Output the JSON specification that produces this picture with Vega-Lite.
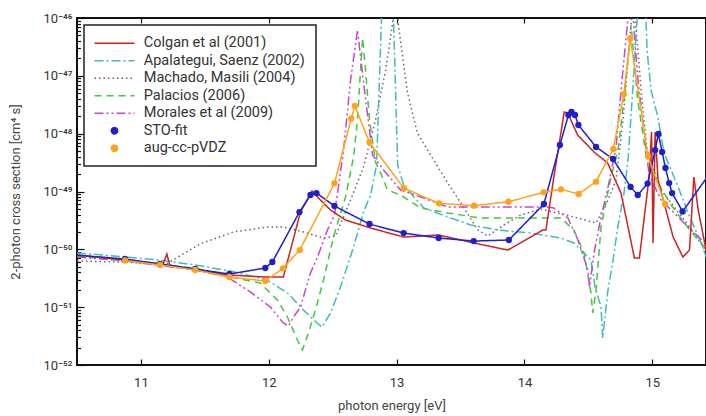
{
  "$schema": "https://vega.github.io/schema/vega-lite/v6.json",
  "width": 629,
  "height": 347,
  "autosize": {"type": "none"},
  "padding": {"left": 77, "top": 18, "right": 0, "bottom": 51},
  "background": "white",
  "config": {
    "font": "Roboto",
    "view": {"stroke": "#111", "strokeWidth": 2}
  },
  "datasets": {
    "curves": [
      {"series": "Machado, Masili (2004)", "x": 10.5, "y": 6.28e-51},
      {"series": "Machado, Masili (2004)", "x": 10.837, "y": 6.04e-51},
      {"series": "Machado, Masili (2004)", "x": 11.197, "y": 5.57e-51},
      {"series": "Machado, Masili (2004)", "x": 11.464, "y": 1.24e-50},
      {"series": "Machado, Masili (2004)", "x": 11.723, "y": 2.0e-50},
      {"series": "Machado, Masili (2004)", "x": 11.989, "y": 2.43e-50},
      {"series": "Machado, Masili (2004)", "x": 12.114, "y": 2.43e-50},
      {"series": "Machado, Masili (2004)", "x": 12.271, "y": 2.0e-50},
      {"series": "Machado, Masili (2004)", "x": 12.428, "y": 1.57e-50},
      {"series": "Machado, Masili (2004)", "x": 12.522, "y": 1.7e-50},
      {"series": "Machado, Masili (2004)", "x": 12.64, "y": 7.13e-50},
      {"series": "Machado, Masili (2004)", "x": 12.741, "y": 2.65e-49},
      {"series": "Machado, Masili (2004)", "x": 12.835, "y": 1.72e-48},
      {"series": "Machado, Masili (2004)", "x": 12.914, "y": 1.26e-47},
      {"series": "Machado, Masili (2004)", "x": 12.961, "y": 6.2e-47},
      {"series": "Machado, Masili (2004)", "x": 12.992, "y": 2.0e-46},
      {"series": "Machado, Masili (2004)", "x": 13.016, "y": 6.98e-47},
      {"series": "Machado, Masili (2004)", "x": 13.084, "y": 5.25e-48},
      {"series": "Machado, Masili (2004)", "x": 13.162, "y": 1.03e-48},
      {"series": "Machado, Masili (2004)", "x": 13.251, "y": 4.82e-49},
      {"series": "Machado, Masili (2004)", "x": 13.4, "y": 1.4e-49},
      {"series": "Machado, Masili (2004)", "x": 13.502, "y": 6.32e-50},
      {"series": "Machado, Masili (2004)", "x": 13.635, "y": 2.16e-50},
      {"series": "Machado, Masili (2004)", "x": 13.713, "y": 1.7e-50},
      {"series": "Machado, Masili (2004)", "x": 13.839, "y": 2.64e-50},
      {"series": "Machado, Masili (2004)", "x": 13.972, "y": 3.93e-50},
      {"series": "Machado, Masili (2004)", "x": 14.128, "y": 4.98e-50},
      {"series": "Machado, Masili (2004)", "x": 14.387, "y": 3.62e-50},
      {"series": "Machado, Masili (2004)", "x": 14.56, "y": 2.85e-50},
      {"series": "Machado, Masili (2004)", "x": 14.654, "y": 7.13e-50},
      {"series": "Machado, Masili (2004)", "x": 14.716, "y": 1.58e-49},
      {"series": "Machado, Masili (2004)", "x": 14.771, "y": 1.72e-48},
      {"series": "Machado, Masili (2004)", "x": 14.81, "y": 1.88e-47},
      {"series": "Machado, Masili (2004)", "x": 14.85, "y": 2.0e-46},
      {"series": "Machado, Masili (2004)", "x": 14.881, "y": 4.17e-47},
      {"series": "Machado, Masili (2004)", "x": 14.912, "y": 5.69e-48},
      {"series": "Machado, Masili (2004)", "x": 14.959, "y": 5.21e-49},
      {"series": "Machado, Masili (2004)", "x": 15.069, "y": 1.06e-49},
      {"series": "Machado, Masili (2004)", "x": 15.28, "y": 2.64e-50},
      {"series": "Machado, Masili (2004)", "x": 15.43, "y": 8.63e-51},

      {"series": "Apalategui, Saenz (2002)", "x": 10.5, "y": 8.63e-51},
      {"series": "Apalategui, Saenz (2002)", "x": 10.704, "y": 7.98e-51},
      {"series": "Apalategui, Saenz (2002)", "x": 11.15, "y": 6.53e-51},
      {"series": "Apalategui, Saenz (2002)", "x": 11.425, "y": 5.36e-51},
      {"series": "Apalategui, Saenz (2002)", "x": 11.699, "y": 4.22e-51},
      {"series": "Apalategui, Saenz (2002)", "x": 11.987, "y": 2.94e-51},
      {"series": "Apalategui, Saenz (2002)", "x": 12.146, "y": 1.76e-51},
      {"series": "Apalategui, Saenz (2002)", "x": 12.271, "y": 8.93e-52},
      {"series": "Apalategui, Saenz (2002)", "x": 12.378, "y": 5.32e-52},
      {"series": "Apalategui, Saenz (2002)", "x": 12.416, "y": 4.54e-52},
      {"series": "Apalategui, Saenz (2002)", "x": 12.483, "y": 7.93e-52},
      {"series": "Apalategui, Saenz (2002)", "x": 12.561, "y": 2.23e-51},
      {"series": "Apalategui, Saenz (2002)", "x": 12.663, "y": 1.1e-50},
      {"series": "Apalategui, Saenz (2002)", "x": 12.741, "y": 4.41e-50},
      {"series": "Apalategui, Saenz (2002)", "x": 12.796, "y": 8.69e-50},
      {"series": "Apalategui, Saenz (2002)", "x": 12.843, "y": 2.87e-49},
      {"series": "Apalategui, Saenz (2002)", "x": 12.863, "y": 5.69e-48},
      {"series": "Apalategui, Saenz (2002)", "x": 12.882, "y": 1.0e-46},
      {"series": "Apalategui, Saenz (2002)", "x": 12.929, "y": 3.0e-46},
      {"series": "Apalategui, Saenz (2002)", "x": 12.976, "y": 9.2e-47},
      {"series": "Apalategui, Saenz (2002)", "x": 12.992, "y": 5.69e-48},
      {"series": "Apalategui, Saenz (2002)", "x": 13.008, "y": 2.87e-49},
      {"series": "Apalategui, Saenz (2002)", "x": 13.055, "y": 1.29e-49},
      {"series": "Apalategui, Saenz (2002)", "x": 13.212, "y": 5.19e-50},
      {"series": "Apalategui, Saenz (2002)", "x": 13.4, "y": 3.62e-50},
      {"series": "Apalategui, Saenz (2002)", "x": 13.58, "y": 2.64e-50},
      {"series": "Apalategui, Saenz (2002)", "x": 13.792, "y": 2.16e-50},
      {"series": "Apalategui, Saenz (2002)", "x": 14.05, "y": 1.91e-50},
      {"series": "Apalategui, Saenz (2002)", "x": 14.285, "y": 1.57e-50},
      {"series": "Apalategui, Saenz (2002)", "x": 14.387, "y": 1.29e-50},
      {"series": "Apalategui, Saenz (2002)", "x": 14.466, "y": 8.63e-51},
      {"series": "Apalategui, Saenz (2002)", "x": 14.52, "y": 6.53e-51},
      {"series": "Apalategui, Saenz (2002)", "x": 14.552, "y": 2.23e-51},
      {"series": "Apalategui, Saenz (2002)", "x": 14.599, "y": 1.01e-51},
      {"series": "Apalategui, Saenz (2002)", "x": 14.612, "y": 2.93e-52},
      {"series": "Apalategui, Saenz (2002)", "x": 14.651, "y": 1.83e-51},
      {"series": "Apalategui, Saenz (2002)", "x": 14.693, "y": 6.53e-51},
      {"series": "Apalategui, Saenz (2002)", "x": 14.73, "y": 2.43e-50},
      {"series": "Apalategui, Saenz (2002)", "x": 14.779, "y": 9.42e-50},
      {"series": "Apalategui, Saenz (2002)", "x": 14.81, "y": 3.51e-49},
      {"series": "Apalategui, Saenz (2002)", "x": 14.842, "y": 3.82e-48},
      {"series": "Apalategui, Saenz (2002)", "x": 14.881, "y": 9.2e-47},
      {"series": "Apalategui, Saenz (2002)", "x": 14.912, "y": 3.0e-46},
      {"series": "Apalategui, Saenz (2002)", "x": 14.951, "y": 9.2e-47},
      {"series": "Apalategui, Saenz (2002)", "x": 14.959, "y": 2.8e-47},
      {"series": "Apalategui, Saenz (2002)", "x": 14.99, "y": 5.69e-48},
      {"series": "Apalategui, Saenz (2002)", "x": 15.045, "y": 1.87e-48},
      {"series": "Apalategui, Saenz (2002)", "x": 15.092, "y": 4.63e-49},
      {"series": "Apalategui, Saenz (2002)", "x": 15.202, "y": 1.2e-49},
      {"series": "Apalategui, Saenz (2002)", "x": 15.28, "y": 4.25e-50},
      {"series": "Apalategui, Saenz (2002)", "x": 15.382, "y": 1.29e-50},
      {"series": "Apalategui, Saenz (2002)", "x": 15.43, "y": 6.53e-51},

      {"series": "Palacios (2006)", "x": 10.5, "y": 7.66e-51},
      {"series": "Palacios (2006)", "x": 10.876, "y": 6.28e-51},
      {"series": "Palacios (2006)", "x": 11.425, "y": 4.75e-51},
      {"series": "Palacios (2006)", "x": 11.699, "y": 3.32e-51},
      {"series": "Palacios (2006)", "x": 11.934, "y": 2.62e-51},
      {"series": "Palacios (2006)", "x": 12.067, "y": 1.33e-51},
      {"series": "Palacios (2006)", "x": 12.146, "y": 6.76e-52},
      {"series": "Palacios (2006)", "x": 12.224, "y": 2.7e-52},
      {"series": "Palacios (2006)", "x": 12.263, "y": 1.82e-52},
      {"series": "Palacios (2006)", "x": 12.31, "y": 3.57e-52},
      {"series": "Palacios (2006)", "x": 12.365, "y": 8.93e-52},
      {"series": "Palacios (2006)", "x": 12.428, "y": 2.94e-51},
      {"series": "Palacios (2006)", "x": 12.506, "y": 1.63e-50},
      {"series": "Palacios (2006)", "x": 12.6, "y": 8.04e-50},
      {"series": "Palacios (2006)", "x": 12.663, "y": 3.94e-49},
      {"series": "Palacios (2006)", "x": 12.694, "y": 1.72e-48},
      {"series": "Palacios (2006)", "x": 12.718, "y": 1.26e-47},
      {"series": "Palacios (2006)", "x": 12.734, "y": 4.51e-47},
      {"series": "Palacios (2006)", "x": 12.757, "y": 1.26e-47},
      {"series": "Palacios (2006)", "x": 12.788, "y": 1.72e-48},
      {"series": "Palacios (2006)", "x": 12.835, "y": 3.24e-49},
      {"series": "Palacios (2006)", "x": 12.875, "y": 2.09e-49},
      {"series": "Palacios (2006)", "x": 12.929, "y": 1.06e-49},
      {"series": "Palacios (2006)", "x": 13.031, "y": 8.69e-50},
      {"series": "Palacios (2006)", "x": 13.188, "y": 5.19e-50},
      {"series": "Palacios (2006)", "x": 13.4, "y": 4.25e-50},
      {"series": "Palacios (2006)", "x": 13.658, "y": 3.48e-50},
      {"series": "Palacios (2006)", "x": 13.917, "y": 3.48e-50},
      {"series": "Palacios (2006)", "x": 14.285, "y": 3.48e-50},
      {"series": "Palacios (2006)", "x": 14.387, "y": 2.16e-50},
      {"series": "Palacios (2006)", "x": 14.466, "y": 8.63e-51},
      {"series": "Palacios (2006)", "x": 14.52, "y": 1.76e-51},
      {"series": "Palacios (2006)", "x": 14.534, "y": 7.93e-52},
      {"series": "Palacios (2006)", "x": 14.56, "y": 1.98e-51},
      {"series": "Palacios (2006)", "x": 14.599, "y": 2.43e-50},
      {"series": "Palacios (2006)", "x": 14.677, "y": 1.78e-49},
      {"series": "Palacios (2006)", "x": 14.732, "y": 5.21e-49},
      {"series": "Palacios (2006)", "x": 14.787, "y": 5.69e-48},
      {"series": "Palacios (2006)", "x": 14.834, "y": 7.57e-47},
      {"series": "Palacios (2006)", "x": 14.886, "y": 3.82e-48},
      {"series": "Palacios (2006)", "x": 14.951, "y": 4.28e-49},
      {"series": "Palacios (2006)", "x": 15.03, "y": 1.58e-49},
      {"series": "Palacios (2006)", "x": 15.147, "y": 5.84e-50},
      {"series": "Palacios (2006)", "x": 15.304, "y": 2.0e-50},
      {"series": "Palacios (2006)", "x": 15.43, "y": 9.72e-51},

      {"series": "Morales et al (2009)", "x": 10.5, "y": 7.36e-51},
      {"series": "Morales et al (2009)", "x": 10.876, "y": 6.28e-51},
      {"series": "Morales et al (2009)", "x": 11.425, "y": 4.39e-51},
      {"series": "Morales et al (2009)", "x": 11.676, "y": 3.32e-51},
      {"series": "Morales et al (2009)", "x": 11.856, "y": 1.83e-51},
      {"series": "Morales et al (2009)", "x": 12.013, "y": 1.0e-51},
      {"series": "Morales et al (2009)", "x": 12.114, "y": 5.32e-52},
      {"series": "Morales et al (2009)", "x": 12.154, "y": 4.72e-52},
      {"series": "Morales et al (2009)", "x": 12.193, "y": 6.76e-52},
      {"series": "Morales et al (2009)", "x": 12.248, "y": 1.0e-51},
      {"series": "Morales et al (2009)", "x": 12.326, "y": 3.9e-51},
      {"series": "Morales et al (2009)", "x": 12.381, "y": 7.36e-51},
      {"series": "Morales et al (2009)", "x": 12.459, "y": 2.16e-50},
      {"series": "Morales et al (2009)", "x": 12.514, "y": 3.93e-50},
      {"series": "Morales et al (2009)", "x": 12.585, "y": 5.21e-49},
      {"series": "Morales et al (2009)", "x": 12.64, "y": 8.47e-48},
      {"series": "Morales et al (2009)", "x": 12.694, "y": 6.2e-47},
      {"series": "Morales et al (2009)", "x": 12.741, "y": 7.82e-48},
      {"series": "Morales et al (2009)", "x": 12.812, "y": 4.28e-49},
      {"series": "Morales et al (2009)", "x": 12.898, "y": 2.35e-49},
      {"series": "Morales et al (2009)", "x": 13.031, "y": 1.06e-49},
      {"series": "Morales et al (2009)", "x": 13.188, "y": 8.04e-50},
      {"series": "Morales et al (2009)", "x": 13.4, "y": 5.4e-50},
      {"series": "Morales et al (2009)", "x": 13.658, "y": 5.4e-50},
      {"series": "Morales et al (2009)", "x": 13.917, "y": 5.4e-50},
      {"series": "Morales et al (2009)", "x": 14.183, "y": 5.4e-50},
      {"series": "Morales et al (2009)", "x": 14.23, "y": 5.19e-50},
      {"series": "Morales et al (2009)", "x": 14.34, "y": 3.48e-50},
      {"series": "Morales et al (2009)", "x": 14.418, "y": 1.45e-50},
      {"series": "Morales et al (2009)", "x": 14.497, "y": 4.39e-51},
      {"series": "Morales et al (2009)", "x": 14.509, "y": 2.23e-51},
      {"series": "Morales et al (2009)", "x": 14.544, "y": 8.63e-51},
      {"series": "Morales et al (2009)", "x": 14.599, "y": 3.62e-50},
      {"series": "Morales et al (2009)", "x": 14.654, "y": 1.2e-49},
      {"series": "Morales et al (2009)", "x": 14.716, "y": 5.65e-49},
      {"series": "Morales et al (2009)", "x": 14.763, "y": 8.47e-48},
      {"series": "Morales et al (2009)", "x": 14.81, "y": 1.0e-46},
      {"series": "Morales et al (2009)", "x": 14.826, "y": 2.0e-46},
      {"series": "Morales et al (2009)", "x": 14.85, "y": 1.0e-46},
      {"series": "Morales et al (2009)", "x": 14.889, "y": 7.82e-48},
      {"series": "Morales et al (2009)", "x": 14.936, "y": 1.07e-48},
      {"series": "Morales et al (2009)", "x": 14.975, "y": 1.93e-49},
      {"series": "Morales et al (2009)", "x": 15.069, "y": 7.13e-50},
      {"series": "Morales et al (2009)", "x": 15.304, "y": 2.16e-50},
      {"series": "Morales et al (2009)", "x": 15.43, "y": 1.19e-50},

      {"series": "Colgan et al (2001)", "x": 10.5, "y": 7.98e-51},
      {"series": "Colgan et al (2001)", "x": 10.876, "y": 6.53e-51},
      {"series": "Colgan et al (2001)", "x": 11.174, "y": 5.57e-51},
      {"series": "Colgan et al (2001)", "x": 11.203, "y": 8.3e-51},
      {"series": "Colgan et al (2001)", "x": 11.225, "y": 5.36e-51},
      {"series": "Colgan et al (2001)", "x": 11.425, "y": 4.39e-51},
      {"series": "Colgan et al (2001)", "x": 11.691, "y": 3.6e-51},
      {"series": "Colgan et al (2001)", "x": 11.973, "y": 3.32e-51},
      {"series": "Colgan et al (2001)", "x": 12.114, "y": 3.32e-51},
      {"series": "Colgan et al (2001)", "x": 12.248, "y": 4.41e-50},
      {"series": "Colgan et al (2001)", "x": 12.339, "y": 1.02e-49},
      {"series": "Colgan et al (2001)", "x": 12.404, "y": 7.13e-50},
      {"series": "Colgan et al (2001)", "x": 12.483, "y": 4.79e-50},
      {"series": "Colgan et al (2001)", "x": 12.6, "y": 3.21e-50},
      {"series": "Colgan et al (2001)", "x": 12.796, "y": 2.34e-50},
      {"series": "Colgan et al (2001)", "x": 13.055, "y": 1.63e-50},
      {"series": "Colgan et al (2001)", "x": 13.329, "y": 1.77e-50},
      {"series": "Colgan et al (2001)", "x": 13.603, "y": 1.29e-50},
      {"series": "Colgan et al (2001)", "x": 13.87, "y": 9.72e-51},
      {"series": "Colgan et al (2001)", "x": 14.144, "y": 2.16e-50},
      {"series": "Colgan et al (2001)", "x": 14.168, "y": 2.16e-50},
      {"series": "Colgan et al (2001)", "x": 14.23, "y": 1.78e-49},
      {"series": "Colgan et al (2001)", "x": 14.311, "y": 2.37e-48},
      {"series": "Colgan et al (2001)", "x": 14.338, "y": 2.28e-48},
      {"series": "Colgan et al (2001)", "x": 14.416, "y": 9.48e-49},
      {"series": "Colgan et al (2001)", "x": 14.544, "y": 4.82e-49},
      {"series": "Colgan et al (2001)", "x": 14.651, "y": 3.11e-49},
      {"series": "Colgan et al (2001)", "x": 14.755, "y": 9.42e-50},
      {"series": "Colgan et al (2001)", "x": 14.802, "y": 2.97e-50},
      {"series": "Colgan et al (2001)", "x": 14.86, "y": 7.08e-51},
      {"series": "Colgan et al (2001)", "x": 14.899, "y": 7.08e-51},
      {"series": "Colgan et al (2001)", "x": 14.975, "y": 1.78e-49},
      {"series": "Colgan et al (2001)", "x": 14.994, "y": 1.07e-48},
      {"series": "Colgan et al (2001)", "x": 15.006, "y": 1.29e-50},
      {"series": "Colgan et al (2001)", "x": 15.022, "y": 1.07e-48},
      {"series": "Colgan et al (2001)", "x": 15.045, "y": 1.58e-49},
      {"series": "Colgan et al (2001)", "x": 15.163, "y": 1.63e-50},
      {"series": "Colgan et al (2001)", "x": 15.239, "y": 7.36e-51},
      {"series": "Colgan et al (2001)", "x": 15.291, "y": 9.72e-51},
      {"series": "Colgan et al (2001)", "x": 15.325, "y": 1.78e-49},
      {"series": "Colgan et al (2001)", "x": 15.359, "y": 4.79e-50},
      {"series": "Colgan et al (2001)", "x": 15.43, "y": 7.66e-51},

      {"series": "STO-fit", "x": 10.45, "y": 8.1e-51},
      {"series": "STO-fit", "x": 10.876, "y": 6.8e-51},
      {"series": "STO-fit", "x": 11.15, "y": 5.57e-51},
      {"series": "STO-fit", "x": 11.425, "y": 4.57e-51},
      {"series": "STO-fit", "x": 11.691, "y": 3.74e-51},
      {"series": "STO-fit", "x": 11.973, "y": 4.75e-51},
      {"series": "STO-fit", "x": 12.028, "y": 6.04e-51},
      {"series": "STO-fit", "x": 12.24, "y": 4.41e-50},
      {"series": "STO-fit", "x": 12.326, "y": 8.69e-50},
      {"series": "STO-fit", "x": 12.373, "y": 9.4e-50},
      {"series": "STO-fit", "x": 12.514, "y": 5.61e-50},
      {"series": "STO-fit", "x": 12.788, "y": 2.74e-50},
      {"series": "STO-fit", "x": 13.055, "y": 1.91e-50},
      {"series": "STO-fit", "x": 13.329, "y": 1.57e-50},
      {"series": "STO-fit", "x": 13.603, "y": 1.39e-50},
      {"series": "STO-fit", "x": 13.878, "y": 1.45e-50},
      {"series": "STO-fit", "x": 14.152, "y": 6.08e-50},
      {"series": "STO-fit", "x": 14.277, "y": 6.37e-49},
      {"series": "STO-fit", "x": 14.344, "y": 2.1e-48},
      {"series": "STO-fit", "x": 14.368, "y": 2.37e-48},
      {"series": "STO-fit", "x": 14.395, "y": 2.1e-48},
      {"series": "STO-fit", "x": 14.422, "y": 1.41e-48},
      {"series": "STO-fit", "x": 14.56, "y": 5.88e-49},
      {"series": "STO-fit", "x": 14.693, "y": 3.65e-49},
      {"series": "STO-fit", "x": 14.83, "y": 1.2e-49},
      {"series": "STO-fit", "x": 14.886, "y": 8.69e-50},
      {"series": "STO-fit", "x": 14.963, "y": 1.37e-49},
      {"series": "STO-fit", "x": 15.022, "y": 5.21e-49},
      {"series": "STO-fit", "x": 15.048, "y": 9.86e-49},
      {"series": "STO-fit", "x": 15.077, "y": 4.82e-49},
      {"series": "STO-fit", "x": 15.103, "y": 2.55e-49},
      {"series": "STO-fit", "x": 15.132, "y": 1.4e-49},
      {"series": "STO-fit", "x": 15.155, "y": 9.4e-50},
      {"series": "STO-fit", "x": 15.237, "y": 4.51e-50},
      {"series": "STO-fit", "x": 15.5, "y": 2.94e-49},

      {"series": "aug-cc-pVDZ", "x": 10.876, "y": 6.41e-51},
      {"series": "aug-cc-pVDZ", "x": 11.15, "y": 5.36e-51},
      {"series": "aug-cc-pVDZ", "x": 11.425, "y": 4.39e-51},
      {"series": "aug-cc-pVDZ", "x": 11.691, "y": 3.32e-51},
      {"series": "aug-cc-pVDZ", "x": 11.973, "y": 2.83e-51},
      {"series": "aug-cc-pVDZ", "x": 12.111, "y": 4.7e-51},
      {"series": "aug-cc-pVDZ", "x": 12.242, "y": 9.72e-51},
      {"series": "aug-cc-pVDZ", "x": 12.514, "y": 1.39e-49},
      {"series": "aug-cc-pVDZ", "x": 12.645, "y": 1.83e-48},
      {"series": "aug-cc-pVDZ", "x": 12.673, "y": 3.01e-48},
      {"series": "aug-cc-pVDZ", "x": 12.788, "y": 7.1e-49},
      {"series": "aug-cc-pVDZ", "x": 13.057, "y": 1.14e-49},
      {"series": "aug-cc-pVDZ", "x": 13.331, "y": 6.25e-50},
      {"series": "aug-cc-pVDZ", "x": 13.606, "y": 5.68e-50},
      {"series": "aug-cc-pVDZ", "x": 13.875, "y": 6.65e-50},
      {"series": "aug-cc-pVDZ", "x": 14.15, "y": 9.68e-50},
      {"series": "aug-cc-pVDZ", "x": 14.285, "y": 1.09e-49},
      {"series": "aug-cc-pVDZ", "x": 14.424, "y": 9.05e-50},
      {"series": "aug-cc-pVDZ", "x": 14.56, "y": 1.48e-49},
      {"series": "aug-cc-pVDZ", "x": 14.695, "y": 5.43e-49},
      {"series": "aug-cc-pVDZ", "x": 14.777, "y": 4.8e-48},
      {"series": "aug-cc-pVDZ", "x": 14.828, "y": 4.46e-47},
      {"series": "aug-cc-pVDZ", "x": 14.965, "y": 4.11e-49},
      {"series": "aug-cc-pVDZ", "x": 15.1, "y": 6.08e-50}
    ]
  },
  "data": {"name": "curves"},
  "layer": [
    {
      "mark": {"type": "line", "clip": true, "strokeWidth": 1.5},
      "encoding": {
        "x": {
          "field": "x", "type": "quantitative",
          "scale": {"domain": [10.5, 15.42], "nice": false, "zero": false},
          "axis": {
            "orient": "bottom", "values": [11, 12, 13, 14, 15], "format": "d",
            "tickSize": -6, "tickColor": "#111", "tickWidth": 1.2,
            "labelFontSize": 13, "labelColor": "#333", "labelPadding": 17,
            "domain": false, "grid": false,
            "title": "photon energy [eV]", "titleFontSize": 13, "titleFontWeight": "normal",
            "titleColor": "#444", "titlePadding": 10
          }
        },
        "y": {
          "field": "y", "type": "quantitative",
          "scale": {"type": "log", "domain": [1e-52, 1e-46], "nice": false},
          "axis": {
            "values": [1e-52, 2e-52, 3e-52, 4e-52, 5e-52, 6e-52, 7e-52, 8e-52, 9e-52,
                       1e-51, 2e-51, 3e-51, 4e-51, 5e-51, 6e-51, 7e-51, 8e-51, 9e-51,
                       1e-50, 2e-50, 3e-50, 4e-50, 5e-50, 6e-50, 7e-50, 8e-50, 9e-50,
                       1e-49, 2e-49, 3e-49, 4e-49, 5e-49, 6e-49, 7e-49, 8e-49, 9e-49,
                       1e-48, 2e-48, 3e-48, 4e-48, 5e-48, 6e-48, 7e-48, 8e-48, 9e-48,
                       1e-47, 2e-47, 3e-47, 4e-47, 5e-47, 6e-47, 7e-47, 8e-47, 9e-47,
                       1e-46],
            "labelExpr": "abs(log(datum.value)/LN10 - round(log(datum.value)/LN10)) < 0.001 ? '10⁻' + substring('⁰¹²³⁴⁵⁶⁷⁸⁹', floor(-round(log(datum.value)/LN10)/10), floor(-round(log(datum.value)/LN10)/10) + 1) + substring('⁰¹²³⁴⁵⁶⁷⁸⁹', (-round(log(datum.value)/LN10)) % 10, (-round(log(datum.value)/LN10)) % 10 + 1) : ''",
            "tickSize": {"condition": {"test": "abs(log(datum.value)/LN10 - round(log(datum.value)/LN10)) < 0.001", "value": -7}, "value": -3.5},
            "tickColor": "#111", "tickWidth": 1.2,
            "labelFontSize": 13, "labelColor": "#333", "labelPadding": 12,
            "domain": false, "grid": false,
            "title": "2-photon cross section [cm⁴ s]", "titleFontSize": 13, "titleFontWeight": "normal",
            "titleColor": "#444", "titlePadding": 21
          }
        },
        "color": {
          "field": "series", "type": "nominal",
          "scale": {
            "domain": ["Colgan et al (2001)", "Apalategui, Saenz (2002)", "Machado, Masili (2004)", "Palacios (2006)", "Morales et al (2009)", "STO-fit", "aug-cc-pVDZ"],
            "range": ["#cc2222", "#3fbcbc", "#666666", "#3ccc3c", "#cc44cc", "#1f1fcc", "#ffa31a"]
          },
          "legend": {
            "orient": "none", "legendX": 7, "legendY": 7, "title": null,
            "symbolType": "stroke", "symbolSize": 100, "symbolStrokeWidth": 1.5,
            "symbolOffset": 12.25,
            "labelFontSize": 14.5, "labelColor": "#333", "labelOffset": 22, "labelLimit": 300,
            "labelExpr": "datum.label + '\u00a0\u00a0\u00a0\u00a0'",
            "rowPadding": 2.5, "padding": 11, "strokeColor": "#222", "fillColor": "white",
            "encode": {
              "symbols": {
                "update": {
                  "shape": {"signal": "indexof(['STO-fit','aug-cc-pVDZ'], datum.value) >= 0 ? 'circle' : 'M-4,0L4,0'"},
                  "size": {"signal": "indexof(['STO-fit','aug-cc-pVDZ'], datum.value) >= 0 ? 40 : 100"},
                  "fill": {"signal": "indexof(['STO-fit','aug-cc-pVDZ'], datum.value) >= 0 ? scale('color', datum.value) : 'transparent'"},
                  "strokeDash": {"scale": "strokeDash", "field": "value"}
                }
              },
              "legend": {"update": {"strokeWidth": {"value": 1.5}, "stroke": {"value": "#222"}, "fill": {"value": "white"}}}
            }
          }
        },
        "strokeDash": {
          "field": "series", "type": "nominal",
          "scale": {
            "domain": ["Colgan et al (2001)", "Apalategui, Saenz (2002)", "Machado, Masili (2004)", "Palacios (2006)", "Morales et al (2009)", "STO-fit", "aug-cc-pVDZ"],
            "range": [[1, 0], [9, 3, 2, 3], [1.5, 3], [7, 5], [9, 3, 2, 3, 2, 3], [1, 0], [1, 0]]
          },
          "legend": null
        }
      }
    },
    {
      "transform": [{"filter": "datum.series == 'STO-fit' || datum.series == 'aug-cc-pVDZ'"}],
      "mark": {"type": "circle", "clip": true, "size": 40, "opacity": 1},
      "encoding": {
        "x": {"field": "x", "type": "quantitative", "axis": null},
        "y": {"field": "y", "type": "quantitative"},
        "color": {"field": "series", "type": "nominal", "legend": null}
      }
    },
    {
      "data": {"values": [{"x": 11}]},
      "mark": {"type": "point", "opacity": 0},
      "encoding": {
        "x": {
          "field": "x", "type": "quantitative",
          "axis": {"orient": "top", "values": [11, 12, 13, 14, 15], "labels": false, "tickSize": -5, "tickColor": "#111", "tickWidth": 1.2, "domain": false, "grid": false, "title": null}
        }
      }
    }
  ],
  "resolve": {"axis": {"x": "independent"}}
}
